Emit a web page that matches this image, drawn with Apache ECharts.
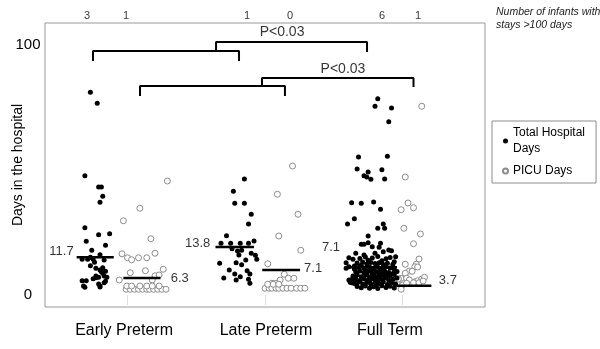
<!DOCTYPE html>
<html><head><meta charset="utf-8">
<script src="https://cdn.jsdelivr.net/npm/echarts@6/dist/echarts.min.js"></script>
<style>html,body{margin:0;padding:0;background:#fff}#c{width:600px;height:349px}</style>
</head><body><div id="c"></div>
<script>
// ---------- data ----------
const categories = ['Early Preterm', 'Late Preterm', 'Full Term'];
const yTickValues = [0, 100];
const yAxisTitle = 'Days in the hospital';
const seriesNames = ['Total Hospital Days', 'PICU Days'];
const noteText = 'Number of infants with\nstays >100 days';
// infants with stays >100 days, per group (Total, PICU) x category
const countsOver100 = [3, 1, 1, 0, 6, 1];
// median labels as printed
const medianLabels = ['11.7', '6.3', '13.8', '7.1', '7.1', '3.7'];
// height of each drawn median bar (days)
const medianBarValues = [15.1, 6.8, 19.2, 10.0, 11.1, 3.7];
const pLabels = ['P<0.03', 'P<0.03'];

// points: [jitter offset from category centre, days]
const earlyTotal = [[-0.27,81.1],[-0.22,76.7],[-0.31,47.7],[-0.21,43.2],[-0.19,43.2],[-0.18,39.5],[-0.20,37.1],[-0.31,26.9],[-0.21,24.1],[-0.13,24.5],[-0.30,21.5],[-0.16,19.9],[-0.26,17.9],[-0.20,16.1],[-0.33,14.3],[-0.29,14.3],[-0.27,15.1],[-0.25,14.3],[-0.17,14.0],[-0.27,11.7],[-0.24,13.1],[-0.18,10.9],[-0.20,10.0],[-0.23,10.7],[-0.19,9.3],[-0.16,9.5],[-0.18,8.7],[-0.17,7.6],[-0.21,7.1],[-0.23,6.9],[-0.15,7.1],[-0.25,6.5],[-0.23,7.6],[-0.33,5.7],[-0.30,5.7],[-0.32,3.6],[-0.31,3.1],[-0.21,4.4],[-0.20,3.2],[-0.20,3.6],[-0.17,4.9],[-0.16,5.5]];
const earlyPicu = [[0.09,34.7],[-0.03,29.7],[0.17,22.5],[-0.04,16.5],[0.00,14.9],[0.03,14.1],[0.08,14.9],[0.14,14.9],[0.20,16.7],[0.02,8.9],[0.13,9.7],[0.26,10.3],[-0.06,6.0],[0.20,7.7],[0.23,8.0],[0.18,6.0],[0.29,45.6],[-0.01,2.3],[0.02,2.3],[0.05,2.3],[0.08,2.3],[0.11,2.3],[0.14,2.3],[0.16,2.3],[0.19,2.3],[0.22,2.3],[0.25,2.3],[0.28,2.3],[-0.005,3.6],[0.03,3.6],[0.09,3.6],[0.14,3.6],[0.18,3.6],[0.23,3.6]];
const lateTotal = [[-0.15,46.4],[-0.23,41.5],[-0.22,36.7],[-0.15,36.7],[-0.10,32.3],[-0.12,28.4],[-0.28,23.7],[-0.32,20.7],[-0.25,20.7],[-0.18,20.7],[-0.12,20.7],[-0.08,21.6],[-0.24,18.5],[-0.17,17.9],[-0.20,17.6],[-0.19,16.0],[-0.10,16.7],[-0.07,15.9],[-0.14,14.0],[-0.06,14.3],[-0.33,12.7],[-0.21,12.9],[-0.17,12.1],[-0.26,10.0],[-0.13,9.7],[-0.11,8.4],[-0.22,8.4],[-0.30,6.8],[-0.18,7.3],[-0.21,6.0],[-0.12,6.3],[-0.11,4.7]];
const latePicu = [[0.20,51.6],[0.09,40.3],[0.24,32.3],[0.10,23.6],[0.26,17.9],[0.02,12.5],[0.14,8.3],[0.17,6.7],[0.21,6.7],[0.11,6.0],[0.05,4.7],[0.08,4.7],[0.00,2.7],[0.03,2.7],[0.05,2.7],[0.08,2.7],[0.10,2.7],[0.13,2.7],[0.16,2.7],[0.19,2.7],[0.23,2.7],[0.26,2.7],[0.29,2.7],[0.02,4.3],[0.06,4.3],[0.10,4.3]];
const fullTotal = [[-0.18,78.5],[-0.20,75.5],[-0.08,74.8],[-0.10,69.3],[-0.32,55.2],[-0.11,55.5],[-0.33,50.4],[-0.15,50.1],[-0.25,49.2],[-0.28,47.7],[-0.26,47.2],[-0.23,46.3],[-0.13,46.4],[-0.37,36.9],[-0.30,36.7],[-0.21,37.2],[-0.16,34.3],[-0.35,30.5],[-0.40,28.4],[-0.14,28.4],[-0.18,26.7],[-0.13,26.7],[-0.25,23.6],[-0.30,20.3],[-0.28,20.3],[-0.25,20.9],[-0.22,19.3],[-0.16,20.7],[-0.17,19.1],[-0.08,17.7],[-0.10,18.0],[-0.14,17.3],[-0.20,16.7],[-0.28,16.0],[-0.34,16.7],[-0.39,14.9],[-0.36,14.3],[-0.41,12.9],[-0.05,15.3],[-0.06,13.3],[-0.41,10.7],[-0.39,11.3],[-0.35,11.6],[-0.39,6.0],[-0.37,4.9],[-0.35,5.3],[-0.33,4.7],
[-0.31,14.6],[-0.27,15.2],[-0.22,14.8],[-0.18,15.4],[-0.12,14.5],[-0.09,15.0],[-0.25,13.9],[-0.15,13.7],
[-0.33,12.8],[-0.29,13.2],[-0.26,12.4],[-0.23,13.0],[-0.20,12.6],[-0.17,12.9],[-0.14,12.2],[-0.11,12.7],[-0.07,12.3],[-0.30,11.9],[-0.19,11.8],
[-0.35,10.4],[-0.32,11.0],[-0.28,10.7],[-0.24,11.2],[-0.21,10.5],[-0.18,11.1],[-0.15,10.6],[-0.12,11.3],[-0.09,10.8],[-0.06,10.2],[-0.27,10.1],[-0.16,10.0],
[-0.34,9.2],[-0.31,9.6],[-0.28,8.9],[-0.25,9.5],[-0.22,8.7],[-0.19,9.3],[-0.16,8.8],[-0.13,9.6],[-0.10,9.0],[-0.07,8.6],[-0.04,9.4],[-0.23,9.9],[-0.14,8.5],
[-0.36,7.6],[-0.33,8.1],[-0.30,7.3],[-0.27,7.9],[-0.24,7.2],[-0.21,8.0],[-0.18,7.4],[-0.15,7.9],[-0.12,7.1],[-0.09,7.7],[-0.06,8.2],[-0.26,8.4],[-0.17,8.3],[-0.11,8.3],
[-0.37,6.2],[-0.34,6.7],[-0.31,5.8],[-0.28,6.5],[-0.25,5.9],[-0.22,6.6],[-0.19,5.7],[-0.16,6.4],[-0.13,6.8],[-0.10,5.9],[-0.07,6.3],[-0.04,6.8],[-0.29,6.9],[-0.20,6.9],
[-0.38,5.1],[-0.35,4.6],[-0.32,5.3],[-0.29,4.4],[-0.26,5.0],[-0.23,4.3],[-0.20,5.2],[-0.17,4.6],[-0.14,5.3],[-0.11,4.2],[-0.08,4.9],[-0.05,4.4],[-0.24,5.4],
[-0.33,3.4],[-0.30,2.9],[-0.27,3.6],[-0.24,2.7],[-0.21,3.3],[-0.18,2.6],[-0.15,3.7],[-0.12,3.0],[-0.09,3.5],[-0.06,2.8],[-0.19,3.9]];
const fullPicu = [[0.14,75.5],[0.02,47.2],[0.04,36.8],[0.08,34.9],[-0.01,34.1],[0.01,26.7],[0.13,24.4],[0.08,20.5],[0.12,14.4],[0.02,12.3],[0.10,12.3],[0.09,11.3],[0.11,11.2],[0.05,9.6],[0.02,8.7],[0.07,9.5],[-0.01,6.7],[0.03,6.7],[0.05,6.0],[0.09,5.3],[0.11,5.7],[0.14,6.4],[0.16,7.1],[0.00,4.0],[0.03,4.7],[0.08,4.9],[0.12,4.9],[0.15,5.6],[-0.01,2.3],[-0.04,4.8],[-0.03,6.4]];

// ---------- layout (annotation placement, in axis units) ----------
const categoryLabelAt = [-0.025, 1.007, 1.909];
const medianSpans = [[-0.37,-0.10],[-0.03,0.24],[0.64,0.92],[0.98,1.255],[1.58,1.96],[1.93,2.21]];
const medianLabelAt = [[-0.48,17.6],[0.38,6.8],[0.51,20.8],[1.35,10.8],[1.48,19.0],[2.33,6.0]];
const countLabelX = [-0.295,-0.011,0.869,1.182,1.851,2.113];
const countLabelY = 111.6;
const brackets = [
  [[-0.251,93.6],[-0.251,97.6],[0.811,97.6],[0.811,93.6]],
  [[0.644,97.6],[0.644,101.2],[1.742,101.2],[1.742,97.2]],
  [[0.091,79.6],[0.091,83.6],[1.145,83.6],[1.145,79.6]],
  [[0.978,83.6],[0.978,86.8],[2.080,86.8],[2.080,83.2]]
];
const pLabelAt = [[1.124,105.2],[1.567,90.4]];

const FONT = '"Liberation Sans", Arial, sans-serif';
const place = (cat, arr) => arr.map(p => [cat + p[0], p[1]]);

const series = [
  { name: seriesNames[0], type: 'scatter', symbol: 'circle', symbolSize: 5, z: 3,
    itemStyle: { color: '#000', opacity: 1 },
    data: [].concat(place(0, earlyTotal), place(1, lateTotal), place(2, fullTotal)) },
  { name: seriesNames[1], type: 'scatter', symbol: 'circle', symbolSize: 6, z: 2,
    itemStyle: { color: '#fff', borderColor: '#8c8c8c', borderWidth: 1, opacity: 1 },
    data: [].concat(place(0, earlyPicu), place(1, latePicu), place(2, fullPicu)) }
];
medianBarValues.forEach((v, i) => {
  series.push({ type: 'line', silent: true, symbol: 'none', z: 5, animation: false,
    lineStyle: { color: '#000', width: 2.5 },
    data: [[medianSpans[i][0], v], [medianSpans[i][1], v]] });
});
brackets.forEach(b => {
  series.push({ type: 'line', silent: true, symbol: 'none', z: 5, clip: false, animation: false,
    lineStyle: { color: '#000', width: 2 }, data: b });
});
series.push({ type: 'scatter', silent: true, symbolSize: 0, clip: false, z: 6,
  label: { show: true, position: 'inside', formatter: p => p.name, color: '#000', fontSize: 13, fontFamily: FONT },
  data: medianLabels.map((t, i) => ({ name: t, value: medianLabelAt[i] })) });
series.push({ type: 'scatter', silent: true, symbolSize: 0, clip: false, z: 6,
  label: { show: true, position: 'inside', formatter: p => p.name, color: '#000', fontSize: 14, fontFamily: FONT },
  data: pLabels.map((t, i) => ({ name: t, value: pLabelAt[i] })) });
series.push({ type: 'scatter', silent: true, symbolSize: 0, clip: false, z: 6,
  label: { show: true, position: 'inside', formatter: p => p.name, color: '#000', fontSize: 11, fontFamily: FONT },
  data: countsOver100.map((c, i) => ({ name: String(c), value: [countLabelX[i], countLabelY] })) });

const chart = echarts.init(document.getElementById('c'), null, { renderer: 'canvas' });
chart.setOption({
  animation: false,
  textStyle: { fontFamily: FONT },
  title: { text: noteText, left: 491, top: 1,
    textStyle: { fontSize: 10.5, fontStyle: 'italic', fontWeight: 'normal', color: '#222', lineHeight: 13, fontFamily: FONT } },
  legend: { orient: 'vertical', left: 492, top: 121, data: seriesNames,
    formatter: n => n === seriesNames[0] ? 'Total Hospital\nDays' : n,
    itemWidth: 5, itemHeight: 5, itemGap: 6, padding: [4, 11, 4, 10],
    borderColor: '#8c8c8c', borderWidth: 1,
    textStyle: { fontSize: 12, lineHeight: 16, color: '#000', fontFamily: FONT } },
  grid: { left: 45, right: 115, top: 23, bottom: 42, containLabel: false, outerBoundsMode: 'none',
    show: true, borderColor: '#999', borderWidth: 1 },
  xAxis: { type: 'value', min: -0.6, max: 2.6,
    axisLine: { show: false }, splitLine: { show: false },
    axisTick: { show: true, customValues: [0, 1, 2], length: 10, lineStyle: { color: '#ddd' } },
    axisLabel: { customValues: categoryLabelAt, formatter: v => categories[Math.round(v)] || '',
      fontSize: 16, color: '#000', margin: 16 } },
  yAxis: { type: 'value', min: -4.8, max: 108.8,
    name: yAxisTitle, nameLocation: 'middle', nameGap: 20, nameMoveOverlap: false,
    nameTextStyle: { fontSize: 14, color: '#000' },
    axisLine: { show: false }, axisTick: { show: false }, splitLine: { show: false },
    axisLabel: { customValues: yTickValues, fontSize: 15, color: '#000', align: 'center', margin: 17 } },
  series: series
});
</script></body></html>
